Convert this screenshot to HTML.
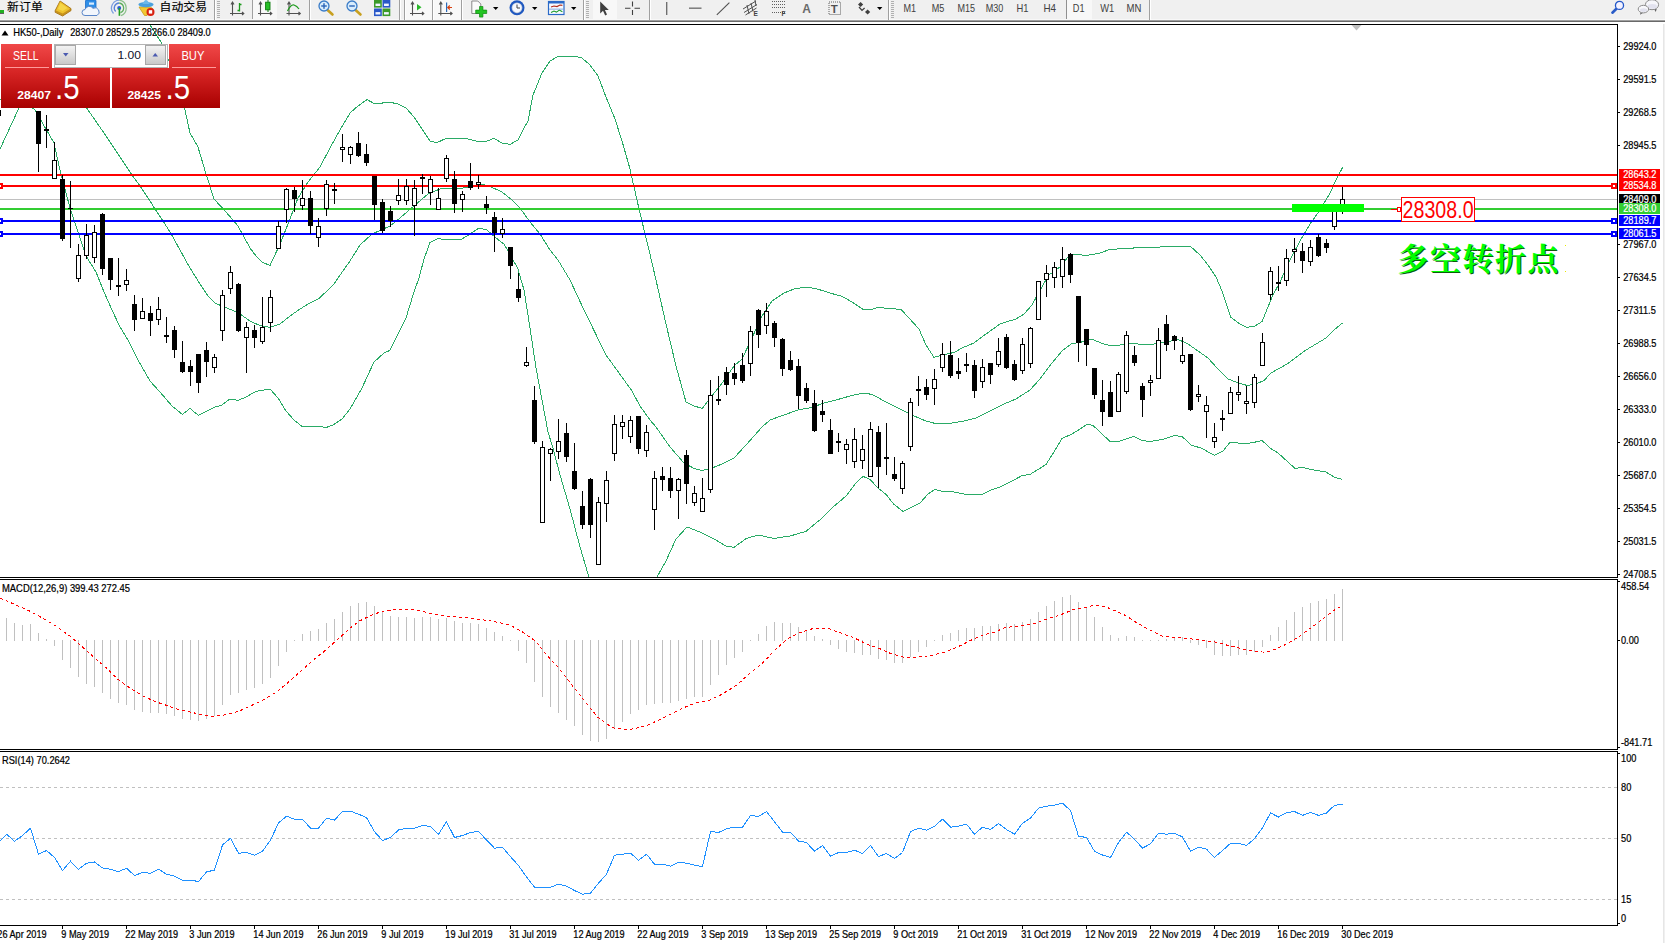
<!DOCTYPE html>
<html lang="zh"><head><meta charset="utf-8"><title>HK50-,Daily</title>
<style>
html,body{margin:0;padding:0;background:#fff;width:1665px;height:943px;overflow:hidden}
svg{display:block;position:absolute;left:0;top:0}
text{font-family:"Liberation Sans","Noto Sans CJK SC",sans-serif;}
.ax{font-size:10.3px;fill:#000;stroke:#000;stroke-width:0.22px}
.axw{font-size:10.3px;fill:#fff;stroke:#fff;stroke-width:0.22px}
.tf{fill:#404040}
.cr{shape-rendering:crispEdges}
</style></head><body>
<svg width="1665" height="943" viewBox="0 0 1665 943">
<defs>
<clipPath id="cm"><rect x="0" y="25" width="1617" height="552"/></clipPath>
<clipPath id="cmacd"><rect x="0" y="580" width="1617" height="169"/></clipPath>
<clipPath id="crsi"><rect x="0" y="752" width="1617" height="173"/></clipPath>
<linearGradient id="rg" x1="0" y1="0" x2="0" y2="1"><stop offset="0" stop-color="#f04848"/><stop offset="0.45" stop-color="#d62424"/><stop offset="1" stop-color="#a80000"/></linearGradient>
<linearGradient id="bg" x1="0" y1="0" x2="0" y2="1"><stop offset="0" stop-color="#f4f4f4"/><stop offset="1" stop-color="#c8c8c8"/></linearGradient>
</defs>
<rect x="0" y="0" width="1665" height="943" fill="#fff"/>
<g clip-path="url(#cm)">
<rect class="cr" x="0" y="199" width="1617" height="1" fill="#c0c0c0"/>
<polyline class="cr" fill="none" stroke="#2aab66" stroke-width="1" points="130.0,-10.0 149.9,24.8 160.9,42.0 172.0,68.0 185.0,110.0 190.0,133.0 198.0,147.0 206.0,174.0 214.0,199.0 226.0,212.0 238.0,226.0 250.0,248.0 256.0,256.0 262.0,262.0 270.0,265.5 280.0,244.0 288.0,224.0 298.0,198.0 308.0,182.0 320.0,167.0 330.0,148.0 340.0,130.0 350.0,113.0 358.0,106.0 367.0,99.6 374.0,103.4 380.0,103.4 389.0,102.0 398.0,104.0 406.0,108.0 414.0,117.0 422.0,129.0 430.0,141.0 437.0,142.6 446.0,138.4 466.0,138.6 478.0,141.4 487.0,141.0 494.0,138.4 502.0,143.0 510.0,144.4 518.0,140.0 524.0,128.0 528.0,121.0 533.0,95.0 542.0,73.0 550.0,61.0 558.0,56.4 576.0,56.4 582.0,58.0 590.0,65.0 598.0,76.0 606.0,97.0 615.0,119.0 622.0,141.0 630.0,169.0 634.0,187.0 640.0,213.0 646.0,238.0 649.0,250.0 656.0,280.0 666.0,324.0 676.0,366.0 686.0,402.0 694.0,406.0 702.4,408.4 710.0,398.0 720.0,386.0 734.0,366.0 742.0,359.0 752.0,338.0 762.0,316.0 772.0,301.0 784.0,293.0 794.0,289.0 806.0,287.0 816.0,288.6 830.0,293.0 842.0,296.4 852.0,302.0 863.0,309.4 870.0,310.0 878.0,307.4 890.0,308.6 901.0,309.4 908.0,317.0 919.0,329.0 926.0,345.0 934.0,357.4 942.0,355.0 954.0,352.5 962.0,348.0 974.0,343.0 986.0,334.0 1000.0,324.0 1008.0,321.4 1016.0,319.0 1024.0,314.0 1032.0,305.0 1038.0,294.0 1044.0,283.0 1049.0,275.0 1060.0,267.0 1068.0,257.0 1073.0,254.6 1080.0,254.6 1086.0,255.6 1100.0,253.0 1110.0,249.4 1124.0,248.6 1140.0,247.6 1160.0,247.0 1164.0,246.0 1190.0,246.0 1200.0,255.0 1208.0,265.0 1216.0,277.0 1222.0,291.0 1228.0,309.0 1231.0,317.4 1240.0,324.0 1247.0,327.4 1255.0,326.0 1262.0,321.5 1268.0,307.0 1273.0,295.0 1280.0,282.0 1290.0,260.0 1300.0,241.0 1310.0,224.0 1320.0,210.0 1330.0,193.0 1336.0,180.0 1342.6,167.4"/>
<polyline class="cr" fill="none" stroke="#2aab66" stroke-width="1" points="0.0,149.0 18.0,110.0 30.0,86.0 45.0,70.0 58.0,68.0 72.0,84.0 88.0,110.0 104.0,133.0 120.0,157.0 132.0,175.0 140.0,186.0 149.0,199.4 155.0,209.0 163.0,221.0 171.0,233.6 180.0,250.0 190.0,268.0 200.0,284.0 208.0,296.0 215.0,303.0 224.0,307.0 232.0,310.0 240.0,314.0 250.0,321.0 260.0,325.6 270.0,327.4 280.0,324.0 290.0,316.0 300.0,309.0 310.0,303.0 318.0,299.0 320.0,297.6 334.0,284.0 338.0,278.0 350.0,261.0 360.0,245.0 372.0,234.0 390.0,226.0 400.0,218.0 414.0,206.0 428.0,194.0 440.0,189.0 448.0,188.0 460.0,188.4 470.0,187.0 482.0,184.0 492.0,187.4 502.0,192.0 512.0,200.0 520.0,208.0 530.0,222.0 540.0,234.0 550.0,250.0 558.0,260.0 570.0,280.0 584.0,310.0 606.0,355.0 632.0,391.0 640.0,406.0 650.0,420.0 656.0,427.0 670.0,447.0 684.0,463.0 694.0,468.4 702.0,470.4 712.0,468.0 722.0,464.0 734.0,458.0 746.0,445.0 754.0,436.0 762.0,427.0 770.0,420.0 784.0,415.0 798.0,410.0 812.0,407.4 824.0,403.0 836.0,400.0 850.0,396.0 863.0,393.0 872.0,394.4 886.0,402.0 900.0,409.0 914.0,416.0 926.0,421.0 935.0,423.4 950.0,423.4 964.0,421.0 976.0,418.0 990.0,411.0 1004.0,404.0 1016.0,399.0 1030.0,390.0 1040.0,379.0 1052.0,363.0 1062.0,351.0 1072.0,343.4 1080.0,342.6 1088.0,339.4 1094.0,340.0 1102.0,343.4 1110.0,345.4 1120.0,345.0 1130.0,343.0 1142.0,344.6 1152.0,344.4 1166.0,342.0 1178.0,339.4 1188.0,344.0 1198.0,351.0 1208.0,358.0 1218.0,369.0 1228.0,379.0 1236.0,382.0 1247.0,385.5 1256.0,384.0 1264.0,380.5 1271.0,373.0 1287.0,364.0 1298.0,356.0 1306.0,350.0 1326.0,338.0 1334.0,330.0 1342.5,323.0"/>
<polyline class="cr" fill="none" stroke="#2aab66" stroke-width="1" points="0.0,100.0 20.0,98.0 35.0,110.0 54.0,143.0 60.0,170.0 70.0,208.0 80.0,238.0 86.0,256.0 96.0,272.0 104.0,292.0 112.0,310.0 120.0,327.0 128.0,340.0 138.0,360.0 150.0,381.0 160.0,392.0 172.0,406.0 182.4,414.4 190.0,408.4 198.4,415.4 214.0,407.4 222.0,405.0 230.0,399.0 238.0,400.4 246.0,397.0 256.0,391.4 270.0,389.0 278.0,398.0 286.0,411.0 294.0,420.0 302.0,426.4 312.0,426.4 320.0,426.5 326.0,427.6 333.0,425.0 342.0,419.0 350.0,409.0 362.0,388.0 374.0,362.0 384.0,353.0 390.0,350.4 406.0,318.0 414.0,292.0 419.0,278.0 424.0,259.0 430.0,242.4 438.0,238.4 444.0,239.6 462.0,239.0 470.0,234.0 479.0,228.0 487.0,230.0 496.0,238.0 504.0,244.0 512.0,258.0 518.0,269.0 524.0,290.0 530.0,328.0 536.0,368.0 542.0,400.0 548.0,432.0 553.0,448.0 560.0,475.0 570.0,509.0 580.0,547.0 588.0,574.0 596.0,600.0 610.0,640.0 630.0,650.0 645.0,620.0 652.0,592.0 657.0,577.0 666.0,561.0 676.0,539.0 687.0,527.0 700.0,532.0 714.0,539.0 726.0,546.0 734.0,547.4 746.0,538.6 758.0,535.0 774.0,538.4 790.0,536.0 806.0,531.4 816.0,523.0 820.0,520.0 832.0,508.0 846.0,496.0 856.0,483.0 863.0,476.4 870.0,479.4 878.0,488.0 886.0,494.4 894.0,504.4 903.0,511.4 912.0,507.0 920.0,503.0 928.0,494.0 935.0,489.4 942.0,491.4 954.0,492.0 966.0,494.4 982.0,494.4 990.0,490.4 1000.0,487.0 1012.0,481.0 1022.0,475.6 1030.0,474.4 1038.0,469.6 1046.0,464.4 1054.0,452.0 1062.0,438.4 1072.0,434.0 1080.0,429.0 1087.0,424.4 1093.0,425.4 1102.0,434.0 1110.0,441.4 1120.0,441.0 1134.0,436.4 1142.0,440.4 1150.0,441.6 1164.0,439.0 1174.0,435.6 1182.0,436.4 1191.0,445.0 1202.0,448.4 1214.4,455.4 1223.0,451.0 1230.0,442.4 1246.0,443.6 1254.0,442.4 1262.0,440.4 1270.0,448.0 1278.0,453.0 1295.0,468.4 1302.0,467.4 1314.0,470.0 1326.0,472.0 1334.0,477.0 1342.0,479.4"/>
<g class="cr">
<rect x="0" y="174" width="1617" height="2" fill="#ff0000"/>
<rect x="0" y="185" width="1617" height="2" fill="#ff0000"/>
<rect x="0" y="208" width="1617" height="2" fill="#32cd32"/>
<rect x="0" y="220" width="1617" height="2" fill="#0000ff"/>
<rect x="0" y="233" width="1617" height="2" fill="#0000ff"/>
<rect x="-2" y="183" width="5" height="6" fill="#ff0000"/><rect x="0" y="185" width="1" height="2" fill="#fff"/>
<rect x="1611" y="183" width="6" height="6" fill="#ff0000"/><rect x="1613" y="185" width="2" height="2" fill="#fff"/>
<rect x="-2" y="218" width="5" height="6" fill="#0000ff"/><rect x="0" y="220" width="1" height="2" fill="#fff"/>
<rect x="1611" y="218" width="6" height="6" fill="#0000ff"/><rect x="1613" y="220" width="2" height="2" fill="#fff"/>
<rect x="-2" y="231" width="5" height="6" fill="#0000ff"/><rect x="0" y="233" width="1" height="2" fill="#fff"/>
<rect x="1611" y="231" width="6" height="6" fill="#0000ff"/><rect x="1613" y="233" width="2" height="2" fill="#fff"/>
</g>
<g class="cr">
<rect x="0" y="110" width="1" height="6" fill="#000"/>
<rect x="38" y="111" width="1" height="61" fill="#000"/>
<rect x="36" y="111" width="5" height="33" fill="#000"/>
<rect x="46" y="115" width="1" height="33" fill="#000"/>
<rect x="44" y="129" width="5" height="2" fill="#000"/>
<rect x="54" y="142" width="1" height="37" fill="#000"/>
<rect x="52" y="160" width="5" height="19" fill="#000"/>
<rect x="53" y="161" width="3" height="17" fill="#fff"/>
<rect x="62" y="175" width="1" height="66" fill="#000"/>
<rect x="60" y="179" width="5" height="60" fill="#000"/>
<rect x="70" y="181" width="1" height="67" fill="#000"/>
<rect x="68" y="208" width="5" height="1" fill="#000"/>
<rect x="78" y="244" width="1" height="38" fill="#000"/>
<rect x="76" y="255" width="5" height="24" fill="#000"/>
<rect x="77" y="256" width="3" height="22" fill="#fff"/>
<rect x="86" y="224" width="1" height="35" fill="#000"/>
<rect x="84" y="235" width="5" height="21" fill="#000"/>
<rect x="85" y="236" width="3" height="19" fill="#fff"/>
<rect x="94" y="225" width="1" height="38" fill="#000"/>
<rect x="92" y="232" width="5" height="26" fill="#000"/>
<rect x="93" y="233" width="3" height="24" fill="#fff"/>
<rect x="102" y="213" width="1" height="62" fill="#000"/>
<rect x="100" y="214" width="5" height="55" fill="#000"/>
<rect x="110" y="258" width="1" height="32" fill="#000"/>
<rect x="108" y="258" width="5" height="22" fill="#000"/>
<rect x="118" y="258" width="1" height="38" fill="#000"/>
<rect x="116" y="285" width="5" height="2" fill="#000"/>
<rect x="126" y="269" width="1" height="22" fill="#000"/>
<rect x="124" y="280" width="5" height="5" fill="#000"/>
<rect x="125" y="281" width="3" height="3" fill="#fff"/>
<rect x="134" y="295" width="1" height="36" fill="#000"/>
<rect x="132" y="304" width="5" height="16" fill="#000"/>
<rect x="142" y="298" width="1" height="21" fill="#000"/>
<rect x="140" y="311" width="5" height="8" fill="#000"/>
<rect x="141" y="312" width="3" height="6" fill="#fff"/>
<rect x="150" y="306" width="1" height="30" fill="#000"/>
<rect x="148" y="313" width="5" height="8" fill="#000"/>
<rect x="158" y="297" width="1" height="28" fill="#000"/>
<rect x="156" y="309" width="5" height="11" fill="#000"/>
<rect x="157" y="310" width="3" height="9" fill="#fff"/>
<rect x="166" y="317" width="1" height="26" fill="#000"/>
<rect x="164" y="335" width="5" height="2" fill="#000"/>
<rect x="174" y="326" width="1" height="32" fill="#000"/>
<rect x="172" y="330" width="5" height="20" fill="#000"/>
<rect x="182" y="341" width="1" height="32" fill="#000"/>
<rect x="180" y="362" width="5" height="10" fill="#000"/>
<rect x="190" y="360" width="1" height="26" fill="#000"/>
<rect x="188" y="366" width="5" height="6" fill="#000"/>
<rect x="198" y="354" width="1" height="39" fill="#000"/>
<rect x="196" y="354" width="5" height="29" fill="#000"/>
<rect x="206" y="342" width="1" height="35" fill="#000"/>
<rect x="204" y="350" width="5" height="12" fill="#000"/>
<rect x="214" y="354" width="1" height="19" fill="#000"/>
<rect x="212" y="357" width="5" height="11" fill="#000"/>
<rect x="213" y="358" width="3" height="9" fill="#fff"/>
<rect x="222" y="290" width="1" height="51" fill="#000"/>
<rect x="220" y="295" width="5" height="36" fill="#000"/>
<rect x="221" y="296" width="3" height="34" fill="#fff"/>
<rect x="230" y="266" width="1" height="28" fill="#000"/>
<rect x="228" y="272" width="5" height="17" fill="#000"/>
<rect x="229" y="273" width="3" height="15" fill="#fff"/>
<rect x="238" y="283" width="1" height="49" fill="#000"/>
<rect x="236" y="284" width="5" height="47" fill="#000"/>
<rect x="246" y="322" width="1" height="51" fill="#000"/>
<rect x="244" y="327" width="5" height="11" fill="#000"/>
<rect x="245" y="328" width="3" height="9" fill="#fff"/>
<rect x="254" y="325" width="1" height="23" fill="#000"/>
<rect x="252" y="330" width="5" height="8" fill="#000"/>
<rect x="262" y="297" width="1" height="47" fill="#000"/>
<rect x="260" y="327" width="5" height="15" fill="#000"/>
<rect x="261" y="328" width="3" height="13" fill="#fff"/>
<rect x="270" y="290" width="1" height="42" fill="#000"/>
<rect x="268" y="297" width="5" height="26" fill="#000"/>
<rect x="269" y="298" width="3" height="24" fill="#fff"/>
<rect x="278" y="221" width="1" height="28" fill="#000"/>
<rect x="276" y="226" width="5" height="23" fill="#000"/>
<rect x="277" y="227" width="3" height="21" fill="#fff"/>
<rect x="286" y="188" width="1" height="35" fill="#000"/>
<rect x="284" y="189" width="5" height="21" fill="#000"/>
<rect x="285" y="190" width="3" height="19" fill="#fff"/>
<rect x="294" y="187" width="1" height="25" fill="#000"/>
<rect x="292" y="190" width="5" height="9" fill="#000"/>
<rect x="302" y="180" width="1" height="30" fill="#000"/>
<rect x="300" y="198" width="5" height="8" fill="#000"/>
<rect x="301" y="199" width="3" height="6" fill="#fff"/>
<rect x="310" y="191" width="1" height="43" fill="#000"/>
<rect x="308" y="198" width="5" height="28" fill="#000"/>
<rect x="318" y="218" width="1" height="29" fill="#000"/>
<rect x="316" y="226" width="5" height="12" fill="#000"/>
<rect x="317" y="227" width="3" height="10" fill="#fff"/>
<rect x="326" y="180" width="1" height="36" fill="#000"/>
<rect x="324" y="184" width="5" height="25" fill="#000"/>
<rect x="325" y="185" width="3" height="23" fill="#fff"/>
<rect x="334" y="183" width="1" height="21" fill="#000"/>
<rect x="332" y="189" width="5" height="2" fill="#000"/>
<rect x="342" y="134" width="1" height="28" fill="#000"/>
<rect x="340" y="147" width="5" height="3" fill="#000"/>
<rect x="341" y="148" width="3" height="1" fill="#fff"/>
<rect x="350" y="146" width="1" height="18" fill="#000"/>
<rect x="348" y="147" width="5" height="8" fill="#000"/>
<rect x="349" y="148" width="3" height="6" fill="#fff"/>
<rect x="358" y="132" width="1" height="25" fill="#000"/>
<rect x="356" y="143" width="5" height="13" fill="#000"/>
<rect x="366" y="144" width="1" height="22" fill="#000"/>
<rect x="364" y="154" width="5" height="9" fill="#000"/>
<rect x="374" y="176" width="1" height="44" fill="#000"/>
<rect x="372" y="176" width="5" height="29" fill="#000"/>
<rect x="382" y="199" width="1" height="34" fill="#000"/>
<rect x="380" y="202" width="5" height="29" fill="#000"/>
<rect x="390" y="206" width="1" height="21" fill="#000"/>
<rect x="388" y="211" width="5" height="10" fill="#000"/>
<rect x="398" y="179" width="1" height="26" fill="#000"/>
<rect x="396" y="195" width="5" height="6" fill="#000"/>
<rect x="397" y="196" width="3" height="4" fill="#fff"/>
<rect x="406" y="179" width="1" height="26" fill="#000"/>
<rect x="404" y="186" width="5" height="15" fill="#000"/>
<rect x="405" y="187" width="3" height="13" fill="#fff"/>
<rect x="414" y="180" width="1" height="56" fill="#000"/>
<rect x="412" y="188" width="5" height="18" fill="#000"/>
<rect x="413" y="189" width="3" height="16" fill="#fff"/>
<rect x="422" y="174" width="1" height="20" fill="#000"/>
<rect x="420" y="177" width="5" height="2" fill="#000"/>
<rect x="430" y="176" width="1" height="29" fill="#000"/>
<rect x="428" y="179" width="5" height="14" fill="#000"/>
<rect x="429" y="180" width="3" height="12" fill="#fff"/>
<rect x="438" y="188" width="1" height="22" fill="#000"/>
<rect x="436" y="198" width="5" height="12" fill="#000"/>
<rect x="437" y="199" width="3" height="10" fill="#fff"/>
<rect x="446" y="155" width="1" height="27" fill="#000"/>
<rect x="444" y="158" width="5" height="21" fill="#000"/>
<rect x="445" y="159" width="3" height="19" fill="#fff"/>
<rect x="454" y="171" width="1" height="42" fill="#000"/>
<rect x="452" y="179" width="5" height="25" fill="#000"/>
<rect x="462" y="191" width="1" height="21" fill="#000"/>
<rect x="460" y="194" width="5" height="6" fill="#000"/>
<rect x="461" y="195" width="3" height="4" fill="#fff"/>
<rect x="470" y="163" width="1" height="27" fill="#000"/>
<rect x="468" y="181" width="5" height="7" fill="#000"/>
<rect x="478" y="175" width="1" height="14" fill="#000"/>
<rect x="476" y="182" width="5" height="3" fill="#000"/>
<rect x="477" y="183" width="3" height="1" fill="#fff"/>
<rect x="486" y="196" width="1" height="18" fill="#000"/>
<rect x="484" y="204" width="5" height="4" fill="#000"/>
<rect x="494" y="212" width="1" height="40" fill="#000"/>
<rect x="492" y="217" width="5" height="16" fill="#000"/>
<rect x="502" y="218" width="1" height="20" fill="#000"/>
<rect x="500" y="229" width="5" height="5" fill="#000"/>
<rect x="501" y="230" width="3" height="3" fill="#fff"/>
<rect x="510" y="247" width="1" height="32" fill="#000"/>
<rect x="508" y="247" width="5" height="19" fill="#000"/>
<rect x="518" y="273" width="1" height="29" fill="#000"/>
<rect x="516" y="289" width="5" height="9" fill="#000"/>
<rect x="526" y="347" width="1" height="20" fill="#000"/>
<rect x="524" y="362" width="5" height="4" fill="#000"/>
<rect x="525" y="363" width="3" height="2" fill="#fff"/>
<rect x="534" y="386" width="1" height="58" fill="#000"/>
<rect x="532" y="400" width="5" height="42" fill="#000"/>
<rect x="542" y="441" width="1" height="82" fill="#000"/>
<rect x="540" y="447" width="5" height="76" fill="#000"/>
<rect x="541" y="448" width="3" height="74" fill="#fff"/>
<rect x="550" y="448" width="1" height="33" fill="#000"/>
<rect x="548" y="449" width="5" height="5" fill="#000"/>
<rect x="549" y="450" width="3" height="3" fill="#fff"/>
<rect x="558" y="419" width="1" height="40" fill="#000"/>
<rect x="556" y="441" width="5" height="11" fill="#000"/>
<rect x="557" y="442" width="3" height="9" fill="#fff"/>
<rect x="566" y="423" width="1" height="39" fill="#000"/>
<rect x="564" y="433" width="5" height="24" fill="#000"/>
<rect x="574" y="443" width="1" height="47" fill="#000"/>
<rect x="572" y="471" width="5" height="18" fill="#000"/>
<rect x="582" y="491" width="1" height="38" fill="#000"/>
<rect x="580" y="506" width="5" height="19" fill="#000"/>
<rect x="590" y="478" width="1" height="60" fill="#000"/>
<rect x="588" y="479" width="5" height="46" fill="#000"/>
<rect x="598" y="497" width="1" height="68" fill="#000"/>
<rect x="596" y="502" width="5" height="63" fill="#000"/>
<rect x="597" y="503" width="3" height="61" fill="#fff"/>
<rect x="606" y="471" width="1" height="51" fill="#000"/>
<rect x="604" y="480" width="5" height="24" fill="#000"/>
<rect x="605" y="481" width="3" height="22" fill="#fff"/>
<rect x="614" y="415" width="1" height="46" fill="#000"/>
<rect x="612" y="424" width="5" height="30" fill="#000"/>
<rect x="613" y="425" width="3" height="28" fill="#fff"/>
<rect x="622" y="415" width="1" height="24" fill="#000"/>
<rect x="620" y="422" width="5" height="5" fill="#000"/>
<rect x="621" y="423" width="3" height="3" fill="#fff"/>
<rect x="630" y="416" width="1" height="27" fill="#000"/>
<rect x="628" y="420" width="5" height="17" fill="#000"/>
<rect x="629" y="421" width="3" height="15" fill="#fff"/>
<rect x="638" y="416" width="1" height="38" fill="#000"/>
<rect x="636" y="416" width="5" height="33" fill="#000"/>
<rect x="646" y="425" width="1" height="32" fill="#000"/>
<rect x="644" y="432" width="5" height="19" fill="#000"/>
<rect x="645" y="433" width="3" height="17" fill="#fff"/>
<rect x="654" y="471" width="1" height="59" fill="#000"/>
<rect x="652" y="478" width="5" height="32" fill="#000"/>
<rect x="653" y="479" width="3" height="30" fill="#fff"/>
<rect x="662" y="467" width="1" height="24" fill="#000"/>
<rect x="660" y="476" width="5" height="4" fill="#000"/>
<rect x="670" y="467" width="1" height="31" fill="#000"/>
<rect x="668" y="478" width="5" height="13" fill="#000"/>
<rect x="678" y="478" width="1" height="41" fill="#000"/>
<rect x="676" y="479" width="5" height="12" fill="#000"/>
<rect x="677" y="480" width="3" height="10" fill="#fff"/>
<rect x="686" y="450" width="1" height="54" fill="#000"/>
<rect x="684" y="455" width="5" height="29" fill="#000"/>
<rect x="694" y="486" width="1" height="20" fill="#000"/>
<rect x="692" y="493" width="5" height="10" fill="#000"/>
<rect x="693" y="494" width="3" height="8" fill="#fff"/>
<rect x="702" y="478" width="1" height="34" fill="#000"/>
<rect x="700" y="498" width="5" height="14" fill="#000"/>
<rect x="701" y="499" width="3" height="12" fill="#fff"/>
<rect x="710" y="380" width="1" height="113" fill="#000"/>
<rect x="708" y="395" width="5" height="95" fill="#000"/>
<rect x="709" y="396" width="3" height="93" fill="#fff"/>
<rect x="718" y="376" width="1" height="29" fill="#000"/>
<rect x="716" y="399" width="5" height="2" fill="#000"/>
<rect x="726" y="367" width="1" height="28" fill="#000"/>
<rect x="724" y="372" width="5" height="13" fill="#000"/>
<rect x="734" y="363" width="1" height="22" fill="#000"/>
<rect x="732" y="373" width="5" height="6" fill="#000"/>
<rect x="742" y="353" width="1" height="30" fill="#000"/>
<rect x="740" y="365" width="5" height="16" fill="#000"/>
<rect x="750" y="326" width="1" height="50" fill="#000"/>
<rect x="748" y="331" width="5" height="33" fill="#000"/>
<rect x="749" y="332" width="3" height="31" fill="#fff"/>
<rect x="758" y="309" width="1" height="39" fill="#000"/>
<rect x="756" y="310" width="5" height="25" fill="#000"/>
<rect x="766" y="303" width="1" height="31" fill="#000"/>
<rect x="764" y="311" width="5" height="15" fill="#000"/>
<rect x="765" y="312" width="3" height="13" fill="#fff"/>
<rect x="774" y="321" width="1" height="26" fill="#000"/>
<rect x="772" y="323" width="5" height="15" fill="#000"/>
<rect x="782" y="338" width="1" height="38" fill="#000"/>
<rect x="780" y="339" width="5" height="30" fill="#000"/>
<rect x="790" y="351" width="1" height="20" fill="#000"/>
<rect x="788" y="360" width="5" height="10" fill="#000"/>
<rect x="798" y="359" width="1" height="50" fill="#000"/>
<rect x="796" y="366" width="5" height="30" fill="#000"/>
<rect x="806" y="383" width="1" height="20" fill="#000"/>
<rect x="804" y="388" width="5" height="13" fill="#000"/>
<rect x="814" y="390" width="1" height="42" fill="#000"/>
<rect x="812" y="403" width="5" height="28" fill="#000"/>
<rect x="822" y="400" width="1" height="22" fill="#000"/>
<rect x="820" y="411" width="5" height="4" fill="#000"/>
<rect x="830" y="419" width="1" height="35" fill="#000"/>
<rect x="828" y="430" width="5" height="24" fill="#000"/>
<rect x="838" y="433" width="1" height="19" fill="#000"/>
<rect x="836" y="441" width="5" height="2" fill="#000"/>
<rect x="846" y="439" width="1" height="25" fill="#000"/>
<rect x="844" y="444" width="5" height="6" fill="#000"/>
<rect x="845" y="445" width="3" height="4" fill="#fff"/>
<rect x="854" y="428" width="1" height="40" fill="#000"/>
<rect x="852" y="439" width="5" height="23" fill="#000"/>
<rect x="853" y="440" width="3" height="21" fill="#fff"/>
<rect x="862" y="435" width="1" height="34" fill="#000"/>
<rect x="860" y="449" width="5" height="12" fill="#000"/>
<rect x="861" y="450" width="3" height="10" fill="#fff"/>
<rect x="870" y="422" width="1" height="55" fill="#000"/>
<rect x="868" y="429" width="5" height="48" fill="#000"/>
<rect x="869" y="430" width="3" height="46" fill="#fff"/>
<rect x="878" y="426" width="1" height="62" fill="#000"/>
<rect x="876" y="432" width="5" height="35" fill="#000"/>
<rect x="886" y="423" width="1" height="52" fill="#000"/>
<rect x="884" y="457" width="5" height="2" fill="#000"/>
<rect x="894" y="457" width="1" height="24" fill="#000"/>
<rect x="892" y="474" width="5" height="5" fill="#000"/>
<rect x="902" y="461" width="1" height="33" fill="#000"/>
<rect x="900" y="463" width="5" height="26" fill="#000"/>
<rect x="901" y="464" width="3" height="24" fill="#fff"/>
<rect x="910" y="398" width="1" height="53" fill="#000"/>
<rect x="908" y="402" width="5" height="45" fill="#000"/>
<rect x="909" y="403" width="3" height="43" fill="#fff"/>
<rect x="918" y="376" width="1" height="30" fill="#000"/>
<rect x="916" y="389" width="5" height="2" fill="#000"/>
<rect x="926" y="379" width="1" height="21" fill="#000"/>
<rect x="924" y="387" width="5" height="8" fill="#000"/>
<rect x="934" y="369" width="1" height="36" fill="#000"/>
<rect x="932" y="379" width="5" height="10" fill="#000"/>
<rect x="933" y="380" width="3" height="8" fill="#fff"/>
<rect x="942" y="343" width="1" height="29" fill="#000"/>
<rect x="940" y="354" width="5" height="14" fill="#000"/>
<rect x="941" y="355" width="3" height="12" fill="#fff"/>
<rect x="950" y="341" width="1" height="37" fill="#000"/>
<rect x="948" y="355" width="5" height="21" fill="#000"/>
<rect x="958" y="358" width="1" height="21" fill="#000"/>
<rect x="956" y="371" width="5" height="3" fill="#000"/>
<rect x="966" y="353" width="1" height="19" fill="#000"/>
<rect x="964" y="364" width="5" height="2" fill="#000"/>
<rect x="974" y="360" width="1" height="38" fill="#000"/>
<rect x="972" y="365" width="5" height="26" fill="#000"/>
<rect x="982" y="359" width="1" height="29" fill="#000"/>
<rect x="980" y="367" width="5" height="15" fill="#000"/>
<rect x="981" y="368" width="3" height="13" fill="#fff"/>
<rect x="990" y="363" width="1" height="21" fill="#000"/>
<rect x="988" y="363" width="5" height="12" fill="#000"/>
<rect x="998" y="338" width="1" height="29" fill="#000"/>
<rect x="996" y="351" width="5" height="14" fill="#000"/>
<rect x="997" y="352" width="3" height="12" fill="#fff"/>
<rect x="1006" y="334" width="1" height="35" fill="#000"/>
<rect x="1004" y="337" width="5" height="31" fill="#000"/>
<rect x="1014" y="360" width="1" height="21" fill="#000"/>
<rect x="1012" y="364" width="5" height="16" fill="#000"/>
<rect x="1022" y="338" width="1" height="36" fill="#000"/>
<rect x="1020" y="344" width="5" height="27" fill="#000"/>
<rect x="1021" y="345" width="3" height="25" fill="#fff"/>
<rect x="1030" y="327" width="1" height="41" fill="#000"/>
<rect x="1028" y="328" width="5" height="36" fill="#000"/>
<rect x="1029" y="329" width="3" height="34" fill="#fff"/>
<rect x="1038" y="281" width="1" height="39" fill="#000"/>
<rect x="1036" y="281" width="5" height="39" fill="#000"/>
<rect x="1037" y="282" width="3" height="37" fill="#fff"/>
<rect x="1046" y="265" width="1" height="32" fill="#000"/>
<rect x="1044" y="273" width="5" height="7" fill="#000"/>
<rect x="1045" y="274" width="3" height="5" fill="#fff"/>
<rect x="1054" y="262" width="1" height="26" fill="#000"/>
<rect x="1052" y="267" width="5" height="11" fill="#000"/>
<rect x="1053" y="268" width="3" height="9" fill="#fff"/>
<rect x="1062" y="247" width="1" height="41" fill="#000"/>
<rect x="1060" y="259" width="5" height="18" fill="#000"/>
<rect x="1061" y="260" width="3" height="16" fill="#fff"/>
<rect x="1070" y="253" width="1" height="30" fill="#000"/>
<rect x="1068" y="254" width="5" height="21" fill="#000"/>
<rect x="1078" y="296" width="1" height="66" fill="#000"/>
<rect x="1076" y="296" width="5" height="47" fill="#000"/>
<rect x="1086" y="329" width="1" height="37" fill="#000"/>
<rect x="1084" y="329" width="5" height="16" fill="#000"/>
<rect x="1094" y="368" width="1" height="31" fill="#000"/>
<rect x="1092" y="368" width="5" height="27" fill="#000"/>
<rect x="1102" y="380" width="1" height="46" fill="#000"/>
<rect x="1100" y="400" width="5" height="12" fill="#000"/>
<rect x="1110" y="381" width="1" height="36" fill="#000"/>
<rect x="1108" y="392" width="5" height="25" fill="#000"/>
<rect x="1118" y="372" width="1" height="40" fill="#000"/>
<rect x="1116" y="374" width="5" height="38" fill="#000"/>
<rect x="1117" y="375" width="3" height="36" fill="#fff"/>
<rect x="1126" y="331" width="1" height="63" fill="#000"/>
<rect x="1124" y="335" width="5" height="57" fill="#000"/>
<rect x="1125" y="336" width="3" height="55" fill="#fff"/>
<rect x="1134" y="346" width="1" height="20" fill="#000"/>
<rect x="1132" y="355" width="5" height="8" fill="#000"/>
<rect x="1142" y="383" width="1" height="34" fill="#000"/>
<rect x="1140" y="386" width="5" height="14" fill="#000"/>
<rect x="1150" y="375" width="1" height="21" fill="#000"/>
<rect x="1148" y="380" width="5" height="3" fill="#000"/>
<rect x="1149" y="381" width="3" height="1" fill="#fff"/>
<rect x="1158" y="328" width="1" height="51" fill="#000"/>
<rect x="1156" y="340" width="5" height="39" fill="#000"/>
<rect x="1157" y="341" width="3" height="37" fill="#fff"/>
<rect x="1166" y="315" width="1" height="36" fill="#000"/>
<rect x="1164" y="324" width="5" height="21" fill="#000"/>
<rect x="1174" y="335" width="1" height="15" fill="#000"/>
<rect x="1172" y="336" width="5" height="5" fill="#000"/>
<rect x="1182" y="337" width="1" height="27" fill="#000"/>
<rect x="1180" y="355" width="5" height="7" fill="#000"/>
<rect x="1181" y="356" width="3" height="5" fill="#fff"/>
<rect x="1190" y="354" width="1" height="57" fill="#000"/>
<rect x="1188" y="354" width="5" height="56" fill="#000"/>
<rect x="1198" y="385" width="1" height="17" fill="#000"/>
<rect x="1196" y="394" width="5" height="3" fill="#000"/>
<rect x="1197" y="395" width="3" height="1" fill="#fff"/>
<rect x="1206" y="396" width="1" height="42" fill="#000"/>
<rect x="1204" y="405" width="5" height="7" fill="#000"/>
<rect x="1205" y="406" width="3" height="5" fill="#fff"/>
<rect x="1214" y="423" width="1" height="25" fill="#000"/>
<rect x="1212" y="437" width="5" height="5" fill="#000"/>
<rect x="1213" y="438" width="3" height="3" fill="#fff"/>
<rect x="1222" y="410" width="1" height="21" fill="#000"/>
<rect x="1220" y="418" width="5" height="2" fill="#000"/>
<rect x="1230" y="387" width="1" height="27" fill="#000"/>
<rect x="1228" y="392" width="5" height="22" fill="#000"/>
<rect x="1229" y="393" width="3" height="20" fill="#fff"/>
<rect x="1238" y="376" width="1" height="25" fill="#000"/>
<rect x="1236" y="392" width="5" height="3" fill="#000"/>
<rect x="1237" y="393" width="3" height="1" fill="#fff"/>
<rect x="1246" y="386" width="1" height="28" fill="#000"/>
<rect x="1244" y="401" width="5" height="3" fill="#000"/>
<rect x="1245" y="402" width="3" height="1" fill="#fff"/>
<rect x="1254" y="374" width="1" height="34" fill="#000"/>
<rect x="1252" y="377" width="5" height="26" fill="#000"/>
<rect x="1253" y="378" width="3" height="24" fill="#fff"/>
<rect x="1262" y="333" width="1" height="33" fill="#000"/>
<rect x="1260" y="342" width="5" height="24" fill="#000"/>
<rect x="1261" y="343" width="3" height="22" fill="#fff"/>
<rect x="1270" y="267" width="1" height="33" fill="#000"/>
<rect x="1268" y="271" width="5" height="24" fill="#000"/>
<rect x="1269" y="272" width="3" height="22" fill="#fff"/>
<rect x="1278" y="266" width="1" height="25" fill="#000"/>
<rect x="1276" y="282" width="5" height="2" fill="#000"/>
<rect x="1286" y="249" width="1" height="37" fill="#000"/>
<rect x="1284" y="258" width="5" height="23" fill="#000"/>
<rect x="1285" y="259" width="3" height="21" fill="#fff"/>
<rect x="1294" y="238" width="1" height="25" fill="#000"/>
<rect x="1292" y="249" width="5" height="3" fill="#000"/>
<rect x="1293" y="250" width="3" height="1" fill="#fff"/>
<rect x="1302" y="243" width="1" height="30" fill="#000"/>
<rect x="1300" y="251" width="5" height="10" fill="#000"/>
<rect x="1310" y="240" width="1" height="26" fill="#000"/>
<rect x="1308" y="247" width="5" height="15" fill="#000"/>
<rect x="1309" y="248" width="3" height="13" fill="#fff"/>
<rect x="1318" y="234" width="1" height="23" fill="#000"/>
<rect x="1316" y="237" width="5" height="19" fill="#000"/>
<rect x="1326" y="239" width="1" height="14" fill="#000"/>
<rect x="1324" y="243" width="5" height="5" fill="#000"/>
<rect x="1334" y="208" width="1" height="22" fill="#000"/>
<rect x="1332" y="208" width="5" height="19" fill="#000"/>
<rect x="1333" y="209" width="3" height="17" fill="#fff"/>
<rect x="1342" y="187" width="1" height="27" fill="#000"/>
<rect x="1340" y="199" width="5" height="11" fill="#000"/>
<rect x="1341" y="200" width="3" height="9" fill="#fff"/>
</g>
<rect class="cr" x="1292" y="204" width="72" height="8" fill="#00ff00"/>
<g class="cr"><rect x="1391" y="209" width="8" height="1" fill="#ff0000"/>
<rect x="1397.5" y="207.5" width="3" height="4" fill="#fff" stroke="#ff0000" stroke-width="1"/>
<rect x="1401.5" y="197.5" width="73" height="24" fill="#fff" stroke="#ff0000" stroke-width="1"/></g>
<text x="1402.6" y="217.9" font-size="23.5" fill="#ff0000" textLength="71" lengthAdjust="spacingAndGlyphs">28308.0</text>
<text x="1398.6" y="271.3" font-size="31" font-weight="700" fill="#0c5c0c" textLength="161" lengthAdjust="spacing" style="font-family:'Liberation Serif','Noto Serif CJK SC',serif">多空转折点</text>
<text x="1397.6" y="270.3" font-size="31" font-weight="700" fill="#00ff00" textLength="161" lengthAdjust="spacing" style="font-family:'Liberation Serif','Noto Serif CJK SC',serif">多空转折点</text>
<rect x="1565" y="245" width="1" height="1" fill="#e8e800"/><rect x="1565" y="271" width="1" height="1" fill="#e8e800"/>
<polygon points="1351.5,25 1361.5,25 1356.5,30.5" fill="#c0c0c0"/>
</g>
<polygon points="1.5,35.5 8.5,35.5 5,30.5" fill="#000"/>
<text x="13.3" y="36.3" class="ax" textLength="50.1" lengthAdjust="spacingAndGlyphs">HK50-,Daily</text>
<text x="70.2" y="36.3" class="ax" textLength="140.5" lengthAdjust="spacingAndGlyphs">28307.0 28529.5 28266.0 28409.0</text>
<g clip-path="url(#cmacd)">
<g class="cr">
<rect x="6" y="618" width="1" height="23" fill="#c0c0c0"/>
<rect x="14" y="623" width="1" height="18" fill="#c0c0c0"/>
<rect x="22" y="625" width="1" height="16" fill="#c0c0c0"/>
<rect x="30" y="624" width="1" height="17" fill="#c0c0c0"/>
<rect x="38" y="633" width="1" height="8" fill="#c0c0c0"/>
<rect x="46" y="639" width="1" height="2" fill="#c0c0c0"/>
<rect x="54" y="640" width="1" height="6" fill="#c0c0c0"/>
<rect x="62" y="640" width="1" height="20" fill="#c0c0c0"/>
<rect x="70" y="640" width="1" height="28" fill="#c0c0c0"/>
<rect x="78" y="640" width="1" height="37" fill="#c0c0c0"/>
<rect x="86" y="640" width="1" height="44" fill="#c0c0c0"/>
<rect x="94" y="640" width="1" height="47" fill="#c0c0c0"/>
<rect x="102" y="640" width="1" height="53" fill="#c0c0c0"/>
<rect x="110" y="640" width="1" height="59" fill="#c0c0c0"/>
<rect x="118" y="640" width="1" height="63" fill="#c0c0c0"/>
<rect x="126" y="640" width="1" height="65" fill="#c0c0c0"/>
<rect x="134" y="640" width="1" height="70" fill="#c0c0c0"/>
<rect x="142" y="640" width="1" height="72" fill="#c0c0c0"/>
<rect x="150" y="640" width="1" height="73" fill="#c0c0c0"/>
<rect x="158" y="640" width="1" height="73" fill="#c0c0c0"/>
<rect x="166" y="640" width="1" height="74" fill="#c0c0c0"/>
<rect x="174" y="640" width="1" height="76" fill="#c0c0c0"/>
<rect x="182" y="640" width="1" height="79" fill="#c0c0c0"/>
<rect x="190" y="640" width="1" height="80" fill="#c0c0c0"/>
<rect x="198" y="640" width="1" height="81" fill="#c0c0c0"/>
<rect x="206" y="640" width="1" height="79" fill="#c0c0c0"/>
<rect x="214" y="640" width="1" height="76" fill="#c0c0c0"/>
<rect x="222" y="640" width="1" height="65" fill="#c0c0c0"/>
<rect x="230" y="640" width="1" height="55" fill="#c0c0c0"/>
<rect x="238" y="640" width="1" height="53" fill="#c0c0c0"/>
<rect x="246" y="640" width="1" height="50" fill="#c0c0c0"/>
<rect x="254" y="640" width="1" height="48" fill="#c0c0c0"/>
<rect x="262" y="640" width="1" height="44" fill="#c0c0c0"/>
<rect x="270" y="640" width="1" height="38" fill="#c0c0c0"/>
<rect x="278" y="640" width="1" height="26" fill="#c0c0c0"/>
<rect x="286" y="640" width="1" height="12" fill="#c0c0c0"/>
<rect x="294" y="640" width="1" height="1" fill="#c0c0c0"/>
<rect x="302" y="634" width="1" height="7" fill="#c0c0c0"/>
<rect x="310" y="631" width="1" height="10" fill="#c0c0c0"/>
<rect x="318" y="629" width="1" height="12" fill="#c0c0c0"/>
<rect x="326" y="623" width="1" height="18" fill="#c0c0c0"/>
<rect x="334" y="619" width="1" height="22" fill="#c0c0c0"/>
<rect x="342" y="612" width="1" height="29" fill="#c0c0c0"/>
<rect x="350" y="606" width="1" height="35" fill="#c0c0c0"/>
<rect x="358" y="603" width="1" height="38" fill="#c0c0c0"/>
<rect x="366" y="602" width="1" height="39" fill="#c0c0c0"/>
<rect x="374" y="606" width="1" height="35" fill="#c0c0c0"/>
<rect x="382" y="611" width="1" height="30" fill="#c0c0c0"/>
<rect x="390" y="616" width="1" height="25" fill="#c0c0c0"/>
<rect x="398" y="617" width="1" height="24" fill="#c0c0c0"/>
<rect x="406" y="617" width="1" height="24" fill="#c0c0c0"/>
<rect x="414" y="618" width="1" height="23" fill="#c0c0c0"/>
<rect x="422" y="617" width="1" height="24" fill="#c0c0c0"/>
<rect x="430" y="617" width="1" height="24" fill="#c0c0c0"/>
<rect x="438" y="619" width="1" height="22" fill="#c0c0c0"/>
<rect x="446" y="618" width="1" height="23" fill="#c0c0c0"/>
<rect x="454" y="621" width="1" height="20" fill="#c0c0c0"/>
<rect x="462" y="623" width="1" height="18" fill="#c0c0c0"/>
<rect x="470" y="623" width="1" height="18" fill="#c0c0c0"/>
<rect x="478" y="624" width="1" height="17" fill="#c0c0c0"/>
<rect x="486" y="628" width="1" height="13" fill="#c0c0c0"/>
<rect x="494" y="632" width="1" height="9" fill="#c0c0c0"/>
<rect x="502" y="636" width="1" height="5" fill="#c0c0c0"/>
<rect x="510" y="640" width="1" height="1" fill="#c0c0c0"/>
<rect x="518" y="640" width="1" height="11" fill="#c0c0c0"/>
<rect x="526" y="640" width="1" height="23" fill="#c0c0c0"/>
<rect x="534" y="640" width="1" height="42" fill="#c0c0c0"/>
<rect x="542" y="640" width="1" height="57" fill="#c0c0c0"/>
<rect x="550" y="640" width="1" height="67" fill="#c0c0c0"/>
<rect x="558" y="640" width="1" height="73" fill="#c0c0c0"/>
<rect x="566" y="640" width="1" height="80" fill="#c0c0c0"/>
<rect x="574" y="640" width="1" height="86" fill="#c0c0c0"/>
<rect x="582" y="640" width="1" height="95" fill="#c0c0c0"/>
<rect x="590" y="640" width="1" height="101" fill="#c0c0c0"/>
<rect x="598" y="640" width="1" height="102" fill="#c0c0c0"/>
<rect x="606" y="640" width="1" height="99" fill="#c0c0c0"/>
<rect x="614" y="640" width="1" height="89" fill="#c0c0c0"/>
<rect x="622" y="640" width="1" height="82" fill="#c0c0c0"/>
<rect x="630" y="640" width="1" height="74" fill="#c0c0c0"/>
<rect x="638" y="640" width="1" height="70" fill="#c0c0c0"/>
<rect x="646" y="640" width="1" height="65" fill="#c0c0c0"/>
<rect x="654" y="640" width="1" height="64" fill="#c0c0c0"/>
<rect x="662" y="640" width="1" height="63" fill="#c0c0c0"/>
<rect x="670" y="640" width="1" height="63" fill="#c0c0c0"/>
<rect x="678" y="640" width="1" height="61" fill="#c0c0c0"/>
<rect x="686" y="640" width="1" height="59" fill="#c0c0c0"/>
<rect x="694" y="640" width="1" height="57" fill="#c0c0c0"/>
<rect x="702" y="640" width="1" height="57" fill="#c0c0c0"/>
<rect x="710" y="640" width="1" height="45" fill="#c0c0c0"/>
<rect x="718" y="640" width="1" height="35" fill="#c0c0c0"/>
<rect x="726" y="640" width="1" height="25" fill="#c0c0c0"/>
<rect x="734" y="640" width="1" height="18" fill="#c0c0c0"/>
<rect x="742" y="640" width="1" height="12" fill="#c0c0c0"/>
<rect x="750" y="640" width="1" height="1" fill="#c0c0c0"/>
<rect x="758" y="634" width="1" height="7" fill="#c0c0c0"/>
<rect x="766" y="626" width="1" height="15" fill="#c0c0c0"/>
<rect x="774" y="622" width="1" height="19" fill="#c0c0c0"/>
<rect x="782" y="623" width="1" height="18" fill="#c0c0c0"/>
<rect x="790" y="623" width="1" height="18" fill="#c0c0c0"/>
<rect x="798" y="627" width="1" height="14" fill="#c0c0c0"/>
<rect x="806" y="630" width="1" height="11" fill="#c0c0c0"/>
<rect x="814" y="636" width="1" height="5" fill="#c0c0c0"/>
<rect x="822" y="639" width="1" height="2" fill="#c0c0c0"/>
<rect x="830" y="640" width="1" height="5" fill="#c0c0c0"/>
<rect x="838" y="640" width="1" height="9" fill="#c0c0c0"/>
<rect x="846" y="640" width="1" height="12" fill="#c0c0c0"/>
<rect x="854" y="640" width="1" height="13" fill="#c0c0c0"/>
<rect x="862" y="640" width="1" height="15" fill="#c0c0c0"/>
<rect x="870" y="640" width="1" height="15" fill="#c0c0c0"/>
<rect x="878" y="640" width="1" height="19" fill="#c0c0c0"/>
<rect x="886" y="640" width="1" height="20" fill="#c0c0c0"/>
<rect x="894" y="640" width="1" height="23" fill="#c0c0c0"/>
<rect x="902" y="640" width="1" height="23" fill="#c0c0c0"/>
<rect x="910" y="640" width="1" height="17" fill="#c0c0c0"/>
<rect x="918" y="640" width="1" height="12" fill="#c0c0c0"/>
<rect x="926" y="640" width="1" height="7" fill="#c0c0c0"/>
<rect x="934" y="640" width="1" height="1" fill="#c0c0c0"/>
<rect x="942" y="635" width="1" height="6" fill="#c0c0c0"/>
<rect x="950" y="633" width="1" height="8" fill="#c0c0c0"/>
<rect x="958" y="630" width="1" height="11" fill="#c0c0c0"/>
<rect x="966" y="628" width="1" height="13" fill="#c0c0c0"/>
<rect x="974" y="628" width="1" height="13" fill="#c0c0c0"/>
<rect x="982" y="626" width="1" height="15" fill="#c0c0c0"/>
<rect x="990" y="626" width="1" height="15" fill="#c0c0c0"/>
<rect x="998" y="624" width="1" height="17" fill="#c0c0c0"/>
<rect x="1006" y="623" width="1" height="18" fill="#c0c0c0"/>
<rect x="1014" y="624" width="1" height="17" fill="#c0c0c0"/>
<rect x="1022" y="622" width="1" height="19" fill="#c0c0c0"/>
<rect x="1030" y="619" width="1" height="22" fill="#c0c0c0"/>
<rect x="1038" y="612" width="1" height="29" fill="#c0c0c0"/>
<rect x="1046" y="606" width="1" height="35" fill="#c0c0c0"/>
<rect x="1054" y="601" width="1" height="40" fill="#c0c0c0"/>
<rect x="1062" y="597" width="1" height="44" fill="#c0c0c0"/>
<rect x="1070" y="595" width="1" height="46" fill="#c0c0c0"/>
<rect x="1078" y="602" width="1" height="39" fill="#c0c0c0"/>
<rect x="1086" y="607" width="1" height="34" fill="#c0c0c0"/>
<rect x="1094" y="617" width="1" height="24" fill="#c0c0c0"/>
<rect x="1102" y="627" width="1" height="14" fill="#c0c0c0"/>
<rect x="1110" y="635" width="1" height="6" fill="#c0c0c0"/>
<rect x="1118" y="638" width="1" height="3" fill="#c0c0c0"/>
<rect x="1126" y="636" width="1" height="5" fill="#c0c0c0"/>
<rect x="1134" y="637" width="1" height="4" fill="#c0c0c0"/>
<rect x="1142" y="640" width="1" height="1" fill="#c0c0c0"/>
<rect x="1150" y="640" width="1" height="1" fill="#c0c0c0"/>
<rect x="1158" y="640" width="1" height="1" fill="#c0c0c0"/>
<rect x="1166" y="639" width="1" height="2" fill="#c0c0c0"/>
<rect x="1174" y="638" width="1" height="3" fill="#c0c0c0"/>
<rect x="1182" y="637" width="1" height="4" fill="#c0c0c0"/>
<rect x="1190" y="640" width="1" height="3" fill="#c0c0c0"/>
<rect x="1198" y="640" width="1" height="5" fill="#c0c0c0"/>
<rect x="1206" y="640" width="1" height="8" fill="#c0c0c0"/>
<rect x="1214" y="640" width="1" height="15" fill="#c0c0c0"/>
<rect x="1222" y="640" width="1" height="16" fill="#c0c0c0"/>
<rect x="1230" y="640" width="1" height="16" fill="#c0c0c0"/>
<rect x="1238" y="640" width="1" height="15" fill="#c0c0c0"/>
<rect x="1246" y="640" width="1" height="15" fill="#c0c0c0"/>
<rect x="1254" y="640" width="1" height="12" fill="#c0c0c0"/>
<rect x="1262" y="640" width="1" height="7" fill="#c0c0c0"/>
<rect x="1270" y="635" width="1" height="6" fill="#c0c0c0"/>
<rect x="1278" y="627" width="1" height="14" fill="#c0c0c0"/>
<rect x="1286" y="620" width="1" height="21" fill="#c0c0c0"/>
<rect x="1294" y="612" width="1" height="29" fill="#c0c0c0"/>
<rect x="1302" y="607" width="1" height="34" fill="#c0c0c0"/>
<rect x="1310" y="603" width="1" height="38" fill="#c0c0c0"/>
<rect x="1318" y="601" width="1" height="40" fill="#c0c0c0"/>
<rect x="1326" y="599" width="1" height="42" fill="#c0c0c0"/>
<rect x="1334" y="594" width="1" height="47" fill="#c0c0c0"/>
<rect x="1342" y="589" width="1" height="52" fill="#c0c0c0"/>
</g>
<polyline class="cr" fill="none" stroke="#ff0000" stroke-width="1" stroke-dasharray="3 3" points="0.0,598.2 15.0,604.5 30.0,611.2 45.0,619.5 57.5,627.0 70.0,636.2 82.5,647.0 95.0,658.2 107.5,669.0 117.5,679.0 130.0,688.2 142.5,695.7 155.0,701.5 167.5,705.7 180.0,710.0 192.5,712.5 205.0,715.7 215.0,716.2 227.5,714.5 240.0,710.7 252.5,705.0 265.0,699.0 277.5,691.5 290.0,680.7 300.0,672.0 312.5,660.7 325.0,650.7 337.5,639.5 350.0,628.2 360.0,620.7 370.0,615.7 382.5,611.2 395.0,609.5 407.5,609.5 417.5,610.2 427.5,612.7 447.5,616.2 467.5,617.7 492.5,621.2 510.0,625.0 522.5,632.0 535.0,640.7 547.5,655.7 560.0,669.5 572.5,685.7 585.0,701.5 597.5,717.0 607.5,724.5 615.0,728.7 630.0,729.5 645.0,726.2 657.5,720.7 670.0,714.5 682.5,708.2 695.0,703.2 710.0,700.0 722.5,694.0 737.5,684.5 750.0,673.2 762.5,663.2 775.0,650.0 787.5,638.7 800.0,632.7 812.5,628.7 830.0,629.0 842.5,633.7 855.0,638.2 867.5,644.5 877.5,647.7 890.0,653.2 902.5,657.0 915.0,657.5 930.0,655.7 945.0,652.0 957.5,647.0 970.0,640.7 982.5,635.2 995.0,632.0 1005.0,627.5 1017.5,626.2 1035.0,623.7 1047.5,618.7 1060.0,615.0 1072.5,610.0 1085.0,607.5 1095.0,605.0 1105.0,606.5 1115.0,610.7 1125.0,615.2 1137.5,623.2 1150.0,630.0 1162.5,636.2 1175.0,637.5 1190.0,638.7 1205.0,640.7 1214.0,641.8 1228.0,645.4 1242.0,648.8 1256.0,651.6 1265.6,652.2 1275.4,649.4 1286.6,644.0 1297.7,637.6 1306.0,631.5 1317.3,623.1 1328.5,614.5 1336.8,608.3 1342.4,606.0"/>
</g>
<text x="2.0" y="591.7" class="ax" textLength="128.0" lengthAdjust="spacingAndGlyphs">MACD(12,26,9) 399.43 272.45</text>
<g clip-path="url(#crsi)">
<line x1="0" y1="787.5" x2="1617" y2="787.5" stroke="#c0c0c0" stroke-width="1" stroke-dasharray="3 3" class="cr"/>
<line x1="0" y1="838.5" x2="1617" y2="838.5" stroke="#c0c0c0" stroke-width="1" stroke-dasharray="3 3" class="cr"/>
<line x1="0" y1="899.5" x2="1617" y2="899.5" stroke="#c0c0c0" stroke-width="1" stroke-dasharray="3 3" class="cr"/>
<polyline class="cr" fill="none" stroke="#1e90ff" stroke-width="1" points="-1.5,842.5 6.5,834.2 14.5,841.2 22.5,835.5 30.5,828.2 38.5,854.2 46.5,850.5 54.5,857.5 62.5,870.5 70.5,861.2 78.5,869.2 86.5,863.2 94.5,862.0 102.5,868.0 110.5,869.2 118.5,871.7 126.5,868.2 134.5,875.5 142.5,872.5 150.5,873.2 158.5,869.2 166.5,874.2 174.5,876.2 182.5,880.2 190.5,880.2 198.5,881.5 206.5,872.0 214.5,870.0 222.5,845.0 230.5,838.2 238.5,853.2 246.5,852.5 254.5,855.2 262.5,851.2 270.5,840.0 278.5,823.0 286.5,816.2 294.5,819.2 302.5,819.2 310.5,828.2 318.5,828.2 326.5,818.2 334.5,820.2 342.5,811.2 350.5,811.2 358.5,814.2 366.5,817.5 374.5,831.7 382.5,840.5 390.5,837.5 398.5,830.0 406.5,828.2 414.5,828.2 422.5,825.5 430.5,826.5 438.5,834.2 446.5,821.7 454.5,837.5 462.5,835.5 470.5,832.5 478.5,831.5 486.5,840.0 494.5,848.2 502.5,847.2 510.5,856.7 518.5,865.5 526.5,877.0 534.5,887.2 542.5,887.2 550.5,887.2 558.5,884.2 566.5,886.2 574.5,890.5 582.5,894.2 590.5,893.2 598.5,883.2 606.5,874.2 614.5,855.2 622.5,854.2 630.5,853.2 638.5,860.2 646.5,854.2 654.5,864.2 662.5,864.2 670.5,866.2 678.5,862.2 686.5,863.2 694.5,865.2 702.5,866.5 710.5,831.5 718.5,832.5 726.5,828.7 734.5,827.2 742.5,827.2 750.5,815.5 758.5,816.5 766.5,811.5 774.5,821.7 782.5,832.2 790.5,832.2 798.5,841.0 806.5,842.5 814.5,851.2 822.5,845.5 830.5,856.2 838.5,852.5 846.5,852.5 854.5,850.2 862.5,853.5 870.5,845.5 878.5,856.5 886.5,853.5 894.5,858.5 902.5,852.5 910.5,831.7 918.5,828.2 926.5,830.2 934.5,826.2 942.5,819.2 950.5,827.2 958.5,826.2 966.5,824.2 974.5,834.2 982.5,827.2 990.5,829.5 998.5,823.5 1006.5,829.5 1014.5,834.2 1022.5,823.2 1030.5,818.2 1038.5,808.2 1046.5,806.2 1054.5,805.2 1062.5,803.2 1070.5,810.5 1078.5,836.2 1086.5,837.5 1094.5,851.2 1102.5,855.0 1110.5,857.5 1118.5,842.5 1126.5,832.2 1134.5,839.2 1142.5,848.2 1150.5,843.7 1158.5,833.2 1166.5,834.2 1174.5,833.2 1182.5,837.0 1190.5,851.2 1198.5,847.2 1206.5,849.2 1214.5,857.3 1222.5,850.6 1230.5,843.3 1238.5,843.3 1246.5,845.5 1254.5,838.6 1262.5,828.0 1270.5,812.9 1278.5,817.0 1286.5,812.6 1294.5,811.5 1302.5,815.4 1310.5,812.3 1318.5,815.4 1326.5,813.1 1334.5,805.3 1342.5,804.2"/>
</g>
<text x="2.0" y="763.8" class="ax" textLength="68.0" lengthAdjust="spacingAndGlyphs">RSI(14) 70.2642</text>
<g class="cr" fill="#000">
<rect x="0" y="24" width="1618" height="1"/>
<rect x="1617" y="24" width="1" height="554"/>
<rect x="0" y="577" width="1618" height="1"/>
<rect x="0" y="579" width="1618" height="1"/>
<rect x="1617" y="579" width="1" height="171"/>
<rect x="0" y="749" width="1618" height="1"/>
<rect x="0" y="751" width="1618" height="1"/>
<rect x="1617" y="751" width="1" height="175"/>
<rect x="0" y="925" width="1618" height="1"/>
<rect x="1618" y="46" width="2" height="1"/>
<rect x="1618" y="79" width="2" height="1"/>
<rect x="1618" y="112" width="2" height="1"/>
<rect x="1618" y="145" width="2" height="1"/>
<rect x="1618" y="244" width="2" height="1"/>
<rect x="1618" y="277" width="2" height="1"/>
<rect x="1618" y="310" width="2" height="1"/>
<rect x="1618" y="343" width="2" height="1"/>
<rect x="1618" y="376" width="2" height="1"/>
<rect x="1618" y="409" width="2" height="1"/>
<rect x="1618" y="442" width="2" height="1"/>
<rect x="1618" y="475" width="2" height="1"/>
<rect x="1618" y="508" width="2" height="1"/>
<rect x="1618" y="541" width="2" height="1"/>
<rect x="1618" y="574" width="2" height="1"/>
<rect x="1618" y="581" width="2" height="1"/>
<rect x="1618" y="640" width="2" height="1"/>
<rect x="1618" y="747" width="2" height="1"/>
<rect x="1618" y="753" width="2" height="1"/>
<rect x="1618" y="923" width="2" height="1"/>
<rect x="62" y="926" width="1" height="3"/>
<rect x="126" y="926" width="1" height="3"/>
<rect x="190" y="926" width="1" height="3"/>
<rect x="254" y="926" width="1" height="3"/>
<rect x="318" y="926" width="1" height="3"/>
<rect x="382" y="926" width="1" height="3"/>
<rect x="446" y="926" width="1" height="3"/>
<rect x="510" y="926" width="1" height="3"/>
<rect x="574" y="926" width="1" height="3"/>
<rect x="638" y="926" width="1" height="3"/>
<rect x="702" y="926" width="1" height="3"/>
<rect x="766" y="926" width="1" height="3"/>
<rect x="830" y="926" width="1" height="3"/>
<rect x="894" y="926" width="1" height="3"/>
<rect x="958" y="926" width="1" height="3"/>
<rect x="1022" y="926" width="1" height="3"/>
<rect x="1086" y="926" width="1" height="3"/>
<rect x="1150" y="926" width="1" height="3"/>
<rect x="1214" y="926" width="1" height="3"/>
<rect x="1278" y="926" width="1" height="3"/>
<rect x="1342" y="926" width="1" height="3"/>
</g>
<text x="1623.2" y="50.2" class="ax" textLength="33.3" lengthAdjust="spacingAndGlyphs">29924.0</text>
<text x="1623.2" y="83.2" class="ax" textLength="33.3" lengthAdjust="spacingAndGlyphs">29591.5</text>
<text x="1623.2" y="116.2" class="ax" textLength="33.3" lengthAdjust="spacingAndGlyphs">29268.5</text>
<text x="1623.2" y="149.2" class="ax" textLength="33.3" lengthAdjust="spacingAndGlyphs">28945.5</text>
<text x="1623.2" y="248.3" class="ax" textLength="33.3" lengthAdjust="spacingAndGlyphs">27967.0</text>
<text x="1623.2" y="281.2" class="ax" textLength="33.3" lengthAdjust="spacingAndGlyphs">27634.5</text>
<text x="1623.2" y="314.2" class="ax" textLength="32.6" lengthAdjust="spacingAndGlyphs">27311.5</text>
<text x="1623.2" y="347.2" class="ax" textLength="33.3" lengthAdjust="spacingAndGlyphs">26988.5</text>
<text x="1623.2" y="380.2" class="ax" textLength="33.3" lengthAdjust="spacingAndGlyphs">26656.0</text>
<text x="1623.2" y="413.2" class="ax" textLength="33.3" lengthAdjust="spacingAndGlyphs">26333.0</text>
<text x="1623.2" y="446.2" class="ax" textLength="33.3" lengthAdjust="spacingAndGlyphs">26010.0</text>
<text x="1623.2" y="479.2" class="ax" textLength="33.3" lengthAdjust="spacingAndGlyphs">25687.0</text>
<text x="1623.2" y="512.2" class="ax" textLength="33.3" lengthAdjust="spacingAndGlyphs">25354.5</text>
<text x="1623.2" y="545.2" class="ax" textLength="33.3" lengthAdjust="spacingAndGlyphs">25031.5</text>
<text x="1623.2" y="578.0" class="ax" textLength="33.3" lengthAdjust="spacingAndGlyphs">24708.5</text>
<rect class="cr" x="1619" y="169" width="41" height="11" fill="#ff0000"/>
<text x="1623.2" y="178.0" class="axw" textLength="33.3" lengthAdjust="spacingAndGlyphs">28643.2</text>
<rect class="cr" x="1619" y="180" width="41" height="11" fill="#ff0000"/>
<text x="1623.2" y="189.0" class="axw" textLength="33.3" lengthAdjust="spacingAndGlyphs">28534.8</text>
<rect class="cr" x="1619" y="194" width="41" height="11" fill="#000000"/>
<text x="1623.2" y="203.0" class="axw" textLength="33.3" lengthAdjust="spacingAndGlyphs">28409.0</text>
<rect class="cr" x="1619" y="215" width="41" height="11" fill="#0000ff"/>
<text x="1623.2" y="224.0" class="axw" textLength="33.3" lengthAdjust="spacingAndGlyphs">28189.7</text>
<rect class="cr" x="1619" y="228" width="41" height="11" fill="#0000ff"/>
<text x="1623.2" y="237.0" class="axw" textLength="33.3" lengthAdjust="spacingAndGlyphs">28061.5</text>
<rect class="cr" x="1619" y="203" width="41" height="11" fill="#32cd32"/>
<text x="1623.2" y="212.0" class="axw" textLength="33.3" lengthAdjust="spacingAndGlyphs">28308.0</text>
<text x="1621.0" y="590.2" class="ax" textLength="28.2" lengthAdjust="spacingAndGlyphs">458.54</text>
<text x="1621.0" y="643.9" class="ax" textLength="17.9" lengthAdjust="spacingAndGlyphs">0.00</text>
<text x="1621.0" y="745.9" class="ax" textLength="31.3" lengthAdjust="spacingAndGlyphs">-841.71</text>
<text x="1621.0" y="761.9" class="ax" textLength="15.4" lengthAdjust="spacingAndGlyphs">100</text>
<text x="1621.0" y="791.0" class="ax" textLength="10.3" lengthAdjust="spacingAndGlyphs">80</text>
<text x="1621.0" y="842.1" class="ax" textLength="10.3" lengthAdjust="spacingAndGlyphs">50</text>
<text x="1621.0" y="903.0" class="ax" textLength="10.3" lengthAdjust="spacingAndGlyphs">15</text>
<text x="1621.0" y="922.2" class="ax" textLength="5.1" lengthAdjust="spacingAndGlyphs">0</text>
<text x="-2.7" y="938.1" class="ax" textLength="49.3" lengthAdjust="spacingAndGlyphs">26 Apr 2019</text>
<text x="61.3" y="938.1" class="ax" textLength="47.8" lengthAdjust="spacingAndGlyphs">9 May 2019</text>
<text x="125.3" y="938.1" class="ax" textLength="52.9" lengthAdjust="spacingAndGlyphs">22 May 2019</text>
<text x="189.3" y="938.1" class="ax" textLength="45.3" lengthAdjust="spacingAndGlyphs">3 Jun 2019</text>
<text x="253.3" y="938.1" class="ax" textLength="50.4" lengthAdjust="spacingAndGlyphs">14 Jun 2019</text>
<text x="317.3" y="938.1" class="ax" textLength="50.4" lengthAdjust="spacingAndGlyphs">26 Jun 2019</text>
<text x="381.3" y="938.1" class="ax" textLength="42.2" lengthAdjust="spacingAndGlyphs">9 Jul 2019</text>
<text x="445.3" y="938.1" class="ax" textLength="47.3" lengthAdjust="spacingAndGlyphs">19 Jul 2019</text>
<text x="509.3" y="938.1" class="ax" textLength="47.3" lengthAdjust="spacingAndGlyphs">31 Jul 2019</text>
<text x="573.3" y="938.1" class="ax" textLength="51.4" lengthAdjust="spacingAndGlyphs">12 Aug 2019</text>
<text x="637.3" y="938.1" class="ax" textLength="51.4" lengthAdjust="spacingAndGlyphs">22 Aug 2019</text>
<text x="701.3" y="938.1" class="ax" textLength="46.8" lengthAdjust="spacingAndGlyphs">3 Sep 2019</text>
<text x="765.3" y="938.1" class="ax" textLength="51.9" lengthAdjust="spacingAndGlyphs">13 Sep 2019</text>
<text x="829.3" y="938.1" class="ax" textLength="51.9" lengthAdjust="spacingAndGlyphs">25 Sep 2019</text>
<text x="893.3" y="938.1" class="ax" textLength="44.8" lengthAdjust="spacingAndGlyphs">9 Oct 2019</text>
<text x="957.3" y="938.1" class="ax" textLength="49.8" lengthAdjust="spacingAndGlyphs">21 Oct 2019</text>
<text x="1021.3" y="938.1" class="ax" textLength="49.8" lengthAdjust="spacingAndGlyphs">31 Oct 2019</text>
<text x="1085.3" y="938.1" class="ax" textLength="51.9" lengthAdjust="spacingAndGlyphs">12 Nov 2019</text>
<text x="1149.3" y="938.1" class="ax" textLength="51.9" lengthAdjust="spacingAndGlyphs">22 Nov 2019</text>
<text x="1213.3" y="938.1" class="ax" textLength="46.8" lengthAdjust="spacingAndGlyphs">4 Dec 2019</text>
<text x="1277.3" y="938.1" class="ax" textLength="51.9" lengthAdjust="spacingAndGlyphs">16 Dec 2019</text>
<text x="1341.3" y="938.1" class="ax" textLength="51.9" lengthAdjust="spacingAndGlyphs">30 Dec 2019</text>
<rect class="cr" x="1663" y="22" width="2" height="921" fill="#f0f0f0"/><rect class="cr" x="1663" y="22" width="1" height="921" fill="#e6e6e6"/>
<g>
<path class="cr" d="M1,44 H52 V68 H110 V108 H1 Z" fill="url(#rg)"/>
<path class="cr" d="M169,44 H220 V108 H112 V68 H169 Z" fill="url(#rg)"/>
<rect class="cr" x="5" y="67" width="44" height="1" fill="#ff9a9a"/>
<rect class="cr" x="172" y="67" width="44" height="1" fill="#ff9a9a"/>
<rect class="cr" x="54.5" y="44.5" width="113" height="23" fill="#fff" stroke="#b4b4b4" stroke-width="1"/>
<rect class="cr" x="55.5" y="45.5" width="20" height="19" fill="url(#bg)" stroke="#a8a8a8" stroke-width="1"/>
<rect class="cr" x="145.5" y="45.5" width="20" height="19" fill="url(#bg)" stroke="#a8a8a8" stroke-width="1"/>
<polygon points="63,53 68.5,53 65.75,56.5" fill="#4a5ab0"/>
<polygon points="152.5,56.5 158,56.5 155.25,53" fill="#4a5ab0"/>
<text x="13" y="59.8" font-size="12" fill="#fff" textLength="25.6" lengthAdjust="spacingAndGlyphs">SELL</text>
<text x="181.4" y="59.8" font-size="12" fill="#fff" textLength="23" lengthAdjust="spacingAndGlyphs">BUY</text>
<text x="117.4" y="59.2" font-size="11.6" fill="#10102a" textLength="23.5" lengthAdjust="spacingAndGlyphs">1.00</text>
<text x="17.3" y="98.8" font-size="11" font-weight="700" fill="#fff" textLength="33.8" lengthAdjust="spacingAndGlyphs">28407</text>
<text x="127.4" y="98.8" font-size="11" font-weight="700" fill="#fff" textLength="33.5" lengthAdjust="spacingAndGlyphs">28425</text>
<text x="55" y="98.8" font-size="34" fill="#fff" textLength="24.5" lengthAdjust="spacingAndGlyphs">.5</text>
<text x="165.5" y="98.8" font-size="34" fill="#fff" textLength="24.5" lengthAdjust="spacingAndGlyphs">.5</text>
</g>
<g id="toolbar">
<rect class="cr" x="0" y="0" width="1665" height="20" fill="#f0f0f0"/>
<rect class="cr" x="0" y="19" width="1665" height="1" fill="#f8f8f8"/>
<rect class="cr" x="0" y="20" width="1665" height="1" fill="#a0a0a0"/>
<rect class="cr" x="0" y="21" width="1665" height="1" fill="#696969"/>
<rect class="cr" x="0" y="22" width="1665" height="2" fill="#ffffff"/>
<rect class="cr" x="0" y="10" width="4" height="3" fill="#22b022"/><rect class="cr" x="0" y="13" width="4" height="1" fill="#606060"/>
<text x="6.9" y="11.3" font-size="11.8" fill="#000" textLength="36" lengthAdjust="spacing" stroke="#000" stroke-width="0.15">新订单</text>
<polygon points="60.1,1 71,8.6 71,10.6 62.6,16 55.2,12.3 55.2,10.6" fill="#c8941c" stroke="#a87414" stroke-width="0.9"/>
<polygon points="60.1,1.6 70.2,8.7 62.7,13.6 56,10.4" fill="#eec22e"/>
<polygon points="60.4,3 67.5,8 62.7,11 58,9" fill="#f6d648"/>
<rect x="85.5" y="0" width="10.5" height="9" rx="1" fill="#2f8fe8" stroke="#1c6cc8" stroke-width="0.8"/>
<rect x="89" y="2.5" width="5" height="2.2" fill="#d8ecff"/>
<path d="M85,15.5 a3,3 0 0 1 0,-6 a4.5,4.5 0 0 1 8,-1.2 a3.6,3.6 0 0 1 4,7.2 z" fill="#f2f6fc" stroke="#5a86c8" stroke-width="1"/>
<g fill="none" stroke-width="1.3"><path d="M113.5,13.5 A8,8 0 0 1 119.2,0.2" stroke="#7a9ee0"/><path d="M115.7,11.5 A5,5 0 0 1 119.2,3" stroke="#5a82d8"/><path d="M119.2,0.2 A8,8 0 0 1 121,15.6" stroke="#8cc08c"/><path d="M119.2,3 A5,5 0 0 1 120.5,12.6" stroke="#5cae5c"/></g>
<circle cx="119.2" cy="7.9" r="2" fill="#2a5cd0"/><rect x="118.6" y="8" width="1.6" height="7.8" fill="#22a022"/>
<path d="M139,7 L150.5,7 L153,9 L147,15.5 L144.5,15.5 Z" fill="#f2c832" stroke="#c89a1c" stroke-width="0.8"/>
<ellipse cx="146" cy="4.6" rx="7.6" ry="2.6" fill="#4aa0dc"/><path d="M142.5,4 Q146,-4 149.5,4 Z" fill="#6cb8ea"/>
<circle cx="150.5" cy="11.9" r="4" fill="#d82010"/><rect x="148.8" y="10.2" width="3.4" height="3.4" fill="#fff"/>
<text x="159.6" y="11.3" font-size="11.8" fill="#000" textLength="47.4" lengthAdjust="spacing" stroke="#000" stroke-width="0.15">自动交易</text>
<rect class="cr" x="214" y="0" width="1" height="20" fill="#a0a0a0"/><rect class="cr" x="215" y="0" width="1" height="20" fill="#ffffff"/>
<rect class="cr" x="217" y="1" width="3" height="1" fill="#b0b0b0"/>
<rect class="cr" x="217" y="3" width="3" height="1" fill="#b0b0b0"/>
<rect class="cr" x="217" y="5" width="3" height="1" fill="#b0b0b0"/>
<rect class="cr" x="217" y="7" width="3" height="1" fill="#b0b0b0"/>
<rect class="cr" x="217" y="9" width="3" height="1" fill="#b0b0b0"/>
<rect class="cr" x="217" y="11" width="3" height="1" fill="#b0b0b0"/>
<rect class="cr" x="217" y="13" width="3" height="1" fill="#b0b0b0"/>
<rect class="cr" x="217" y="15" width="3" height="1" fill="#b0b0b0"/>
<rect class="cr" x="217" y="17" width="3" height="1" fill="#b0b0b0"/>
<path d="M232.5,2.5 V15.5 M230.0,13.5 H243.5 M231.0,4.5 L232.5,2 L234.0,4.5 M242.0,12 L243.8,13.5 L242.0,15" fill="none" stroke="#505050" stroke-width="1.1"/>
<path d="M239.5,3 V11.5 M239.5,4.5 H241.5 M237.5,10.5 H239.5" fill="none" stroke="#1c9a1c" stroke-width="1.3"/>
<rect class="cr" x="253" y="0" width="24" height="19" fill="#f8f8f8"/><rect class="cr" x="252" y="0" width="1" height="19" fill="#a0a0a0"/>
<path d="M260.5,2.5 V15.5 M258.0,13.5 H271.5 M259.0,4.5 L260.5,2 L262.0,4.5 M270.0,12 L271.8,13.5 L270.0,15" fill="none" stroke="#505050" stroke-width="1.1"/>
<rect x="267.5" y="0" width="1" height="12" fill="#0c7a0c"/><rect x="265.6" y="2.2" width="4.4" height="7.6" fill="#28c028" stroke="#0c7a0c" stroke-width="0.9"/>
<path d="M289.0,2.5 V15.5 M286.5,13.5 H300.0 M287.5,4.5 L289.0,2 L290.5,4.5 M298.5,12 L300.3,13.5 L298.5,15" fill="none" stroke="#505050" stroke-width="1.1"/>
<path d="M287.5,11 Q291,4 294,5 T299,9" fill="none" stroke="#1c9a1c" stroke-width="1.2"/>
<rect class="cr" x="309" y="0" width="1" height="20" fill="#a0a0a0"/><rect class="cr" x="310" y="0" width="1" height="20" fill="#ffffff"/>
<line x1="327.0" y1="9.5" x2="332.5" y2="14.5" stroke="#c8a020" stroke-width="2.6" stroke-linecap="round"/>
<circle cx="324.0" cy="6" r="5" fill="#d8ecfc" stroke="#3a7cc8" stroke-width="1.3"/>
<rect x="321.2" y="5.3" width="5.6" height="1.4" fill="#2a64b8"/>
<rect x="323.3" y="3.2" width="1.4" height="5.6" fill="#2a64b8"/>
<line x1="355.0" y1="9.5" x2="360.5" y2="14.5" stroke="#c8a020" stroke-width="2.6" stroke-linecap="round"/>
<circle cx="352.0" cy="6" r="5" fill="#d8ecfc" stroke="#3a7cc8" stroke-width="1.3"/>
<rect x="349.2" y="5.3" width="5.6" height="1.4" fill="#2a64b8"/>
<rect x="374.0" y="0.0" width="7.8" height="7.6" fill="#3a9a28"/><rect x="375.5" y="3.6" width="4.8" height="2.4" fill="#f0f4ff"/>
<rect x="382.5" y="0.0" width="7.8" height="7.6" fill="#2a58c8"/><rect x="384.0" y="3.6" width="4.8" height="2.4" fill="#f0f4ff"/>
<rect x="374.0" y="8.5" width="7.8" height="7.6" fill="#2a58c8"/><rect x="375.5" y="12.1" width="4.8" height="2.4" fill="#f0f4ff"/>
<rect x="382.5" y="8.5" width="7.8" height="7.6" fill="#3a9a28"/><rect x="384.0" y="12.1" width="4.8" height="2.4" fill="#f0f4ff"/>
<rect class="cr" x="399" y="0" width="1" height="20" fill="#a0a0a0"/><rect class="cr" x="400" y="0" width="1" height="20" fill="#ffffff"/>
<rect class="cr" x="404" y="0" width="1" height="20" fill="#a0a0a0"/><rect class="cr" x="405" y="0" width="1" height="20" fill="#ffffff"/>
<rect class="cr" x="406" y="0" width="26" height="19" fill="#f8f8f8"/><rect class="cr" x="434" y="0" width="27" height="19" fill="#f8f8f8"/>
<path d="M412.5,2.5 V15.5 M410.0,13.5 H423.5 M411.0,4.5 L412.5,2 L414.0,4.5 M422.0,12 L423.8,13.5 L422.0,15" fill="none" stroke="#505050" stroke-width="1.1"/>
<polygon points="417,4 417,10.5 421.5,7.2" fill="#28b828"/>
<rect class="cr" x="432" y="0" width="1" height="20" fill="#a0a0a0"/><rect class="cr" x="433" y="0" width="1" height="20" fill="#ffffff"/>
<path d="M440.8,2.5 V15.5 M438.3,13.5 H451.8 M439.3,4.5 L440.8,2 L442.3,4.5 M450.3,12 L452.1,13.5 L450.3,15" fill="none" stroke="#505050" stroke-width="1.1"/>
<rect x="446" y="2.5" width="1.2" height="9.5" fill="#2a6ab8"/><path d="M452,7.5 H448 M449.8,5.5 L447.8,7.5 L449.8,9.5" stroke="#d84010" stroke-width="1.2" fill="none"/>
<rect class="cr" x="461" y="0" width="1" height="20" fill="#a0a0a0"/><rect class="cr" x="462" y="0" width="1" height="20" fill="#ffffff"/>
<path d="M471.8,1 h6 l3,3 v9.5 h-9 z" fill="#fafafa" stroke="#808080" stroke-width="0.9"/>
<path d="M479.5,6.5 h3.4 v3.6 h3.8 v3.4 h-3.8 v3.6 h-3.4 v-3.6 h-3.8 v-3.4 h3.8 z" fill="#22c422" stroke="#0c8a0c" stroke-width="0.7"/>
<polygon points="493.0,7 498.4,7 495.7,10" fill="#000"/>
<circle cx="517" cy="7.8" r="7.5" fill="#1f58c0"/><circle cx="517" cy="7.8" r="5.4" fill="#b8c4d8"/><circle cx="517" cy="7.8" r="4.6" fill="#f6f9ff"/><path d="M517,4.5 V8 H520" fill="none" stroke="#404040" stroke-width="1"/>
<polygon points="532.0,7 537.4,7 534.7,10" fill="#000"/>
<rect x="548.5" y="1.5" width="15.5" height="13" fill="#f8fbff" stroke="#2a6ac8" stroke-width="1.2"/><rect x="548.5" y="1.5" width="15.5" height="2" fill="#2a6ac8"/>
<path d="M551,7 l3,-1 l3,0.6 l3,-1.6 l2.4,0.4" fill="none" stroke="#b02a1a" stroke-width="1.1"/><path d="M551,12.5 l3,-1.4 l2.4,1 l3,-2 l3,1.6" fill="none" stroke="#1a9a2a" stroke-width="1.1"/><rect x="549" y="8.7" width="14.5" height="0.8" fill="#6a9ad8"/>
<polygon points="571.0,7 576.4,7 573.7,10" fill="#000"/>
<rect class="cr" x="583" y="0" width="1" height="20" fill="#a0a0a0"/><rect class="cr" x="584" y="0" width="1" height="20" fill="#ffffff"/>
<rect class="cr" x="586" y="1" width="3" height="1" fill="#b0b0b0"/>
<rect class="cr" x="586" y="3" width="3" height="1" fill="#b0b0b0"/>
<rect class="cr" x="586" y="5" width="3" height="1" fill="#b0b0b0"/>
<rect class="cr" x="586" y="7" width="3" height="1" fill="#b0b0b0"/>
<rect class="cr" x="586" y="9" width="3" height="1" fill="#b0b0b0"/>
<rect class="cr" x="586" y="11" width="3" height="1" fill="#b0b0b0"/>
<rect class="cr" x="586" y="13" width="3" height="1" fill="#b0b0b0"/>
<rect class="cr" x="586" y="15" width="3" height="1" fill="#b0b0b0"/>
<rect class="cr" x="586" y="17" width="3" height="1" fill="#b0b0b0"/>
<rect class="cr" x="593" y="0" width="24" height="19" fill="#f8f8f8"/>
<path d="M600.2,1.5 V13.5 L603,10.8 L605.2,15.5 L607,14.6 L604.9,10 H608.8 Z" fill="#404040"/>
<path d="M632.5,1.5 V6.5 M632.5,10 V15 M625,8.2 H630.5 M634.5,8.2 H640" stroke="#404040" stroke-width="1.1" fill="none"/>
<rect class="cr" x="649" y="0" width="1" height="20" fill="#a0a0a0"/><rect class="cr" x="650" y="0" width="1" height="20" fill="#ffffff"/>
<rect x="666.2" y="2" width="1.1" height="13" fill="#505050"/>
<rect x="689" y="7.6" width="12.5" height="1.1" fill="#505050"/>
<line x1="716.8" y1="14.8" x2="729.4" y2="2.7" stroke="#505050" stroke-width="1.1"/>
<g stroke="#505050" stroke-width="1" fill="none"><line x1="743" y1="9" x2="756" y2="1"/><line x1="744" y1="12.5" x2="757" y2="4.5"/><line x1="745.5" y1="15" x2="756.5" y2="8"/><line x1="747" y1="5" x2="749" y2="14"/><line x1="751" y1="3" x2="753" y2="11.5"/><line x1="755" y1="0" x2="756" y2="6"/></g>
<text x="753.5" y="16" font-size="6.5" font-weight="700" fill="#404040">E</text>
<line x1="772" y1="1.5" x2="785" y2="1.5" stroke="#606060" stroke-width="1" stroke-dasharray="1 1"/>
<line x1="772" y1="4.5" x2="785" y2="4.5" stroke="#606060" stroke-width="1" stroke-dasharray="1 1"/>
<line x1="772" y1="7.5" x2="785" y2="7.5" stroke="#606060" stroke-width="1" stroke-dasharray="1 1"/>
<line x1="772" y1="12.5" x2="785" y2="12.5" stroke="#606060" stroke-width="1" stroke-dasharray="1 1"/>
<text x="781.5" y="16" font-size="6.5" font-weight="700" fill="#404040">F</text>
<text x="802.3" y="13" font-size="12" font-weight="700" fill="#6a6a6a">A</text>
<rect x="829" y="2" width="11.5" height="12.5" fill="none" stroke="#606060" stroke-width="1" stroke-dasharray="1 1"/><text x="830.8" y="13" font-size="11.5" font-weight="700" fill="#505050">T</text>
<path d="M858,4.5 l2.6,-2.6 l2.6,2.6 l-2.6,2.6 z M865,12 l2.6,-2.6 l2.6,2.6 l-2.6,2.6 z" fill="#404040"/><path d="M859,7 l3,3.4 l2.6,-2.4" fill="none" stroke="#404040" stroke-width="1.3"/>
<polygon points="877.0,7 882.4,7 879.7,10" fill="#000"/>
<rect class="cr" x="888" y="0" width="1" height="20" fill="#a0a0a0"/><rect class="cr" x="889" y="0" width="1" height="20" fill="#ffffff"/>
<rect class="cr" x="891" y="1" width="3" height="1" fill="#b0b0b0"/>
<rect class="cr" x="891" y="3" width="3" height="1" fill="#b0b0b0"/>
<rect class="cr" x="891" y="5" width="3" height="1" fill="#b0b0b0"/>
<rect class="cr" x="891" y="7" width="3" height="1" fill="#b0b0b0"/>
<rect class="cr" x="891" y="9" width="3" height="1" fill="#b0b0b0"/>
<rect class="cr" x="891" y="11" width="3" height="1" fill="#b0b0b0"/>
<rect class="cr" x="891" y="13" width="3" height="1" fill="#b0b0b0"/>
<rect class="cr" x="891" y="15" width="3" height="1" fill="#b0b0b0"/>
<rect class="cr" x="891" y="17" width="3" height="1" fill="#b0b0b0"/>
<text x="903.4" y="12.3" class="tf" font-size="10.2" textLength="12.6" lengthAdjust="spacingAndGlyphs">M1</text>
<text x="931.7" y="12.3" class="tf" font-size="10.2" textLength="12.6" lengthAdjust="spacingAndGlyphs">M5</text>
<text x="957.5" y="12.3" class="tf" font-size="10.2" textLength="17.6" lengthAdjust="spacingAndGlyphs">M15</text>
<text x="985.8" y="12.3" class="tf" font-size="10.2" textLength="17.6" lengthAdjust="spacingAndGlyphs">M30</text>
<text x="1016.6" y="12.3" class="tf" font-size="10.2" textLength="12.0" lengthAdjust="spacingAndGlyphs">H1</text>
<text x="1043.4" y="12.3" class="tf" font-size="10.2" textLength="12.6" lengthAdjust="spacingAndGlyphs">H4</text>
<text x="1100.2" y="12.3" class="tf" font-size="10.2" textLength="14.0" lengthAdjust="spacingAndGlyphs">W1</text>
<text x="1126.5" y="12.3" class="tf" font-size="10.2" textLength="14.8" lengthAdjust="spacingAndGlyphs">MN</text>
<rect class="cr" x="1067" y="0" width="25" height="19" fill="#f8f8f8"/><rect class="cr" x="1066" y="0" width="1" height="19" fill="#909090"/>
<text x="1072.8" y="12.3" class="tf" font-size="10.2" textLength="11.7" lengthAdjust="spacingAndGlyphs">D1</text>
<rect class="cr" x="1149" y="0" width="1" height="20" fill="#a0a0a0"/><rect class="cr" x="1150" y="0" width="1" height="20" fill="#ffffff"/>
<line x1="1612.4" y1="12.7" x2="1616.4" y2="8.8" stroke="#2a5cc8" stroke-width="2.6" stroke-linecap="round"/><circle cx="1619.5" cy="5.4" r="4.05" fill="#f4f2ff" stroke="#2458c8" stroke-width="1.3"/>
<path d="M1654.2,9.2 l1.6,2.8 l0.9,-3.2 z" fill="#606060"/><ellipse cx="1652" cy="4.7" rx="6.6" ry="5" fill="#f6f6fa" stroke="#8a8a8a" stroke-width="1"/><ellipse cx="1652.3" cy="6.4" rx="4.6" ry="2.4" fill="#e2e2ee"/>
<path d="M1640.6,12.2 l-0.6,2.6 l2.8,-1.8 z" fill="#606060"/><ellipse cx="1643.4" cy="9.1" rx="5.2" ry="3.8" fill="#f8f8fb" stroke="#8a8a8a" stroke-width="1"/><ellipse cx="1643.6" cy="10.1" rx="3.6" ry="1.8" fill="#e2e2ee"/>
</g>
</svg></body></html>
